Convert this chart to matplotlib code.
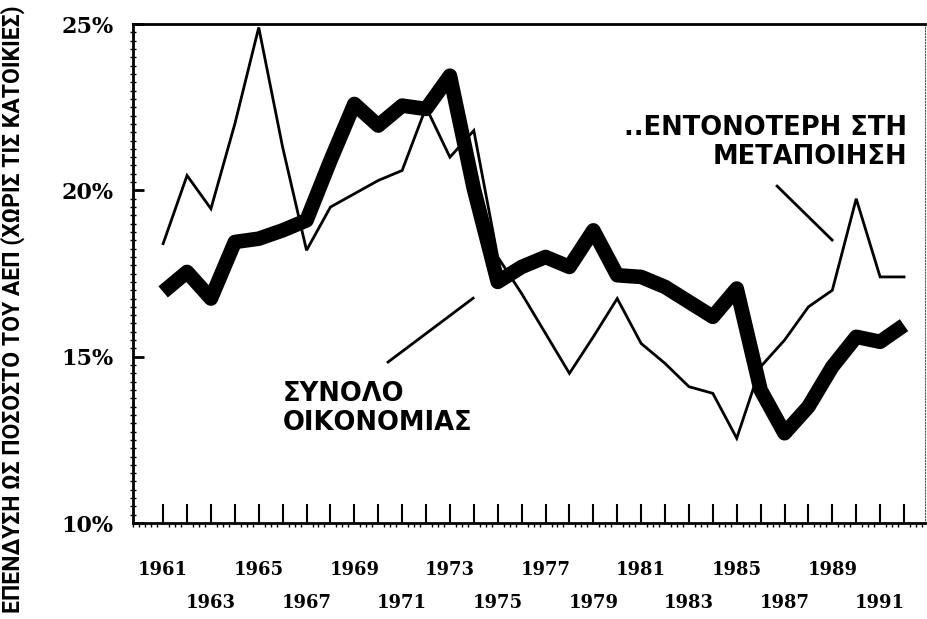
import matplotlib.pyplot as plt
import numpy as np
from matplotlib.ticker import MultipleLocator

# Δεδομένα (ανάγνωση από το διάγραμμα)
years = list(range(1961, 1993))
total_economy = [16.95, 17.55, 16.75, 18.45, 18.55, 18.8, 19.1, 20.9, 22.6, 21.95,
                 22.55, 22.45, 23.45, 20.05, 17.25, 17.7, 18.0, 17.7, 18.8, 17.45,
                 17.4, 17.1, 16.65, 16.2, 17.05, 14.0, 12.7, 13.5, 14.7, 15.6,
                 15.45, 15.95]
manufacturing = [18.4, 20.45, 19.45, 22.0, 24.9, 21.3, 18.2, 19.5, 19.9, 20.3,
                 20.6, 22.5, 21.0, 21.8, 18.0, 16.9, 15.7, 14.5, 15.6, 16.75,
                 15.4, 14.8, 14.1, 13.9, 12.55, 14.7, 15.5, 16.5, 17.0, 19.75,
                 17.4, 17.4]
label_years = list(range(1961, 1993, 2))
y_ticks = [10, 15, 20, 25]
y_ticklabels = ['10%', '15%', '20%', '25%']

fig = plt.figure(figsize=(9.27, 6.19), dpi=100)
ax = fig.add_axes([0.1435, 0.155, 0.8544, 0.806])

ax.plot(years, manufacturing, color='black', linewidth=2.0, solid_joinstyle='miter')
ax.plot(years, total_economy, color='black', linewidth=10.5, solid_joinstyle='round',
        solid_capstyle='butt')

ax.set_xlim(1959.74, 1992.88)
ax.set_ylim(10, 25)

# Άξονες
for side in ['left', 'bottom', 'top']:
    ax.spines[side].set_linewidth(2)
ax.spines['right'].set_linewidth(0.8)
ax.spines['right'].set_linestyle(':')
ax.spines['right'].set_color('#555555')

ax.set_yticks(y_ticks)
ax.set_yticklabels(y_ticklabels, fontsize=16, fontweight='bold', family='DejaVu Serif')
ax.yaxis.set_minor_locator(MultipleLocator(0.25))
ax.tick_params(axis='y', which='major', direction='in', length=8, width=2, pad=14)
ax.tick_params(axis='y', which='minor', direction='inout', length=4, width=1)

ax.set_xticks(years)
ax.set_xticklabels([])
ax.xaxis.set_minor_locator(MultipleLocator(0.25))
ax.tick_params(axis='x', which='major', direction='in', length=14, width=1.5)
ax.tick_params(axis='x', which='minor', direction='out', length=3, width=1)

# Ετικέτες ετών σε δύο σειρές
trans = ax.get_xaxis_transform()
for i, yr in enumerate(label_years):
    ypos = -0.094 if i % 2 == 0 else -0.160
    ax.text(yr, ypos, str(yr), transform=trans, ha='center', va='center',
            fontsize=13, fontweight='bold', family='DejaVu Serif')

fig.text(0.014, 0.5, 'ΕΠΕΝΔΥΣΗ ΩΣ ΠΟΣΟΣΤΟ ΤΟΥ ΑΕΠ (ΧΩΡΙΣ ΤΙΣ ΚΑΤΟΙΚΙΕΣ)',
         rotation=90, ha='center', va='center', fontsize=16.5, fontweight='bold',
         family=['Liberation Sans Narrow', 'Roboto', 'DejaVu Sans'])

# Σχόλια με γραμμές
ax.text(1966.0, 13.45, 'ΣΥΝΟΛΟ\nΟΙΚΟΝΟΜΙΑΣ', ha='left', va='center',
        fontsize=18.5, fontweight='bold', linespacing=1.15)
ax.plot([1970.41, 1973.97], [14.84, 16.76], color='black', linewidth=2)

ax.text(1992.13, 21.44, '..ΕΝΤΟΝΟΤΕΡΗ ΣΤΗ\nΜΕΤΑΠΟΙΗΣΗ', ha='right', va='center',
        multialignment='right', fontsize=18.5, fontweight='bold', linespacing=1.15)
ax.plot([1986.69, 1988.99], [20.13, 18.51], color='black', linewidth=2)

fig.savefig('out.png', dpi=100)
